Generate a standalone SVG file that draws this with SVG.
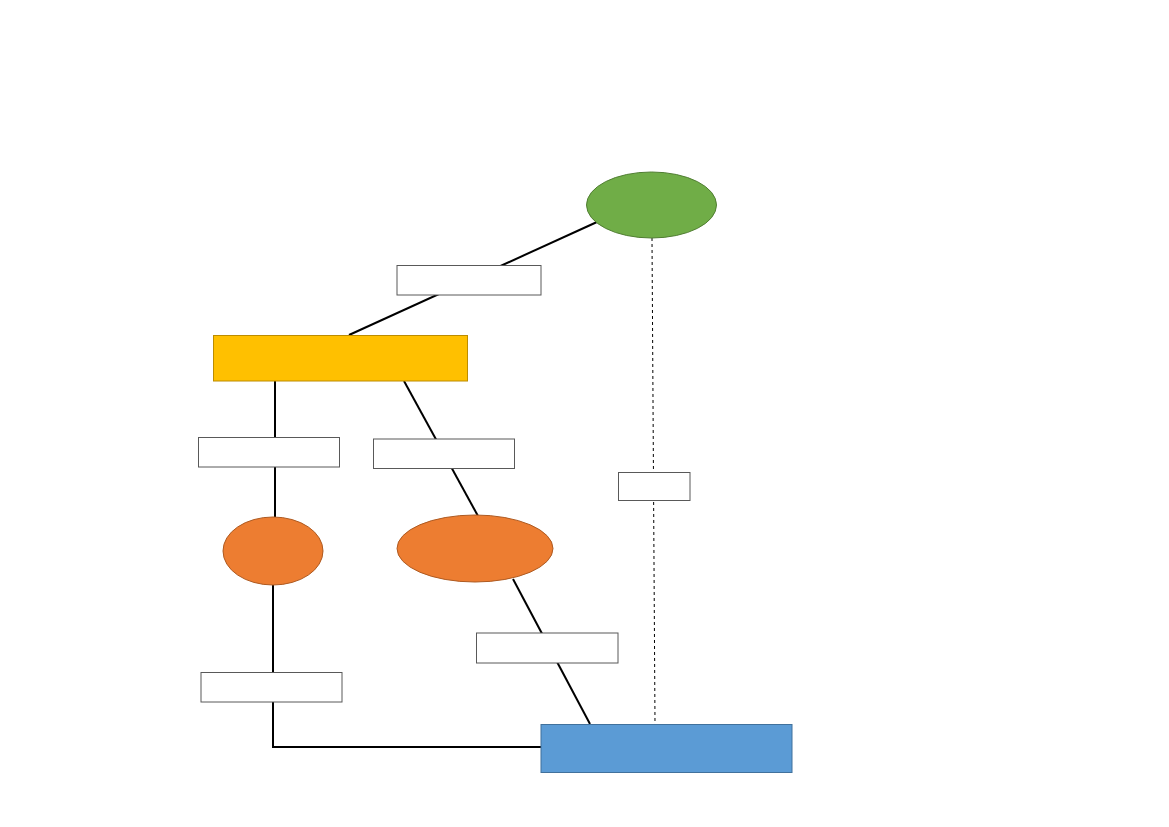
<svg xmlns="http://www.w3.org/2000/svg" width="1169" height="827" viewBox="0 0 1169 827">
<style>
.conn{stroke:#000;stroke-width:2;fill:none}
.dash{stroke:#000;stroke-width:1;stroke-dasharray:3,3;fill:none}
.lbl{fill:#fff;stroke:#595959;stroke-width:1}
.org{fill:#ED7D31;stroke:#AE5A21;stroke-width:1}
</style>
<rect width="1169" height="827" fill="#fff"/>
<g id="connectors">
<line class="conn" x1="597" y1="222" x2="349" y2="335"/>
<line class="conn" x1="275" y1="381" x2="275" y2="517"/>
<line class="conn" x1="404" y1="381" x2="478" y2="516"/>
<line class="conn" x1="513" y1="579" x2="590" y2="724"/>
<polyline class="conn" points="273,585 273,747 541,747"/>
<line class="dash" x1="652" y1="238" x2="655" y2="724"/>
</g>
<g id="n-green"><ellipse cx="651.5" cy="205" rx="65" ry="33" fill="#70AD47" stroke="#507E32" stroke-width="1"/></g>
<g id="n-l1"><rect class="lbl" x="397" y="265.5" width="144" height="29.5"/></g>
<g id="n-yellow"><rect x="213.5" y="335.5" width="254" height="45.5" fill="#FFC000" stroke="#BC8C00" stroke-width="1"/></g>
<g id="n-l2"><rect class="lbl" x="198.5" y="437.5" width="141" height="29.5"/></g>
<g id="n-l3"><rect class="lbl" x="373.5" y="439" width="141" height="29.5"/></g>
<g id="n-l4"><rect class="lbl" x="618.5" y="472.5" width="71.5" height="28"/></g>
<g id="n-or1"><ellipse class="org" cx="273" cy="551" rx="50" ry="34"/></g>
<g id="n-or2"><ellipse class="org" cx="475" cy="548.5" rx="78" ry="33.5"/></g>
<g id="n-l5"><rect class="lbl" x="476.5" y="633" width="141.5" height="30"/></g>
<g id="n-l6"><rect class="lbl" x="201" y="672.5" width="141" height="29.5"/></g>
<g id="n-blue"><rect x="541" y="724.5" width="251" height="48" fill="#5B9BD5" stroke="#41719C" stroke-width="1"/></g>
</svg>
